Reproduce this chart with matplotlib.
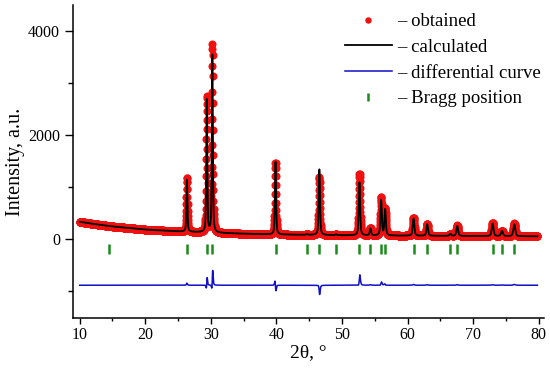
import matplotlib
matplotlib.use("Agg")
import matplotlib.pyplot as plt
from matplotlib.ticker import MultipleLocator, FixedLocator
import numpy as np

plt.rcParams["font.family"] = ["Liberation Serif", "DejaVu Serif"]

# background knots (2theta, intensity)
bg_x = [10, 12, 15, 20, 25, 30, 35, 40, 50, 60, 70, 80]
bg_y = [330, 290, 240, 180, 145, 120, 100, 85, 70, 62, 56, 50]

# peak table: position, calculated height, observed height, obs shift, fwhm
peak_pos = [26.35, 29.38, 30.23, 39.86, 44.67, 46.55, 49.10, 52.66, 54.34, 55.97, 56.58,
            60.91, 63.00, 66.51, 67.58, 72.97, 74.40, 76.28]
calc_h = [1010, 2550, 3450, 1400, 15, 1270, 15, 1020, 130, 680, 500,
          330, 225, 40, 190, 240, 100, 230]
obs_h = [1050, 2620, 3620, 1380, 15, 1120, 15, 1180, 140, 730, 520,
         345, 235, 40, 200, 250, 105, 245]
obs_shift = [0.0, 0.005, 0.006, -0.01, 0.0, -0.008, 0.0, 0.012, 0.0, 0.006, -0.004,
             0.0, 0.0, 0.0, 0.0, 0.0, 0.0, 0.0]
fwhm = [0.18, 0.18, 0.18, 0.2, 0.22, 0.22, 0.24, 0.24, 0.25, 0.25, 0.25,
        0.28, 0.28, 0.3, 0.3, 0.32, 0.33, 0.34]

# Bragg reflections
bragg = [14.48, 26.34, 29.35, 30.21, 39.88, 44.67, 46.55, 49.10, 52.66, 54.34, 55.97,
         56.58, 60.91, 63.00, 66.51, 67.58, 72.97, 74.40, 76.28]

diff_offset = -890
bragg_level = -190


def pseudo_voigt(x, x0, h, w, eta=0.5):
    g = np.exp(-4 * np.log(2) * ((x - x0) / w) ** 2)
    l = 1 / (1 + 4 * ((x - x0) / w) ** 2)
    return h * (eta * l + (1 - eta) * g)


tt = np.arange(10, 79.81, 0.02)
bg = np.interp(tt, bg_x, bg_y)
calc = bg.copy()
obs = bg.copy()
for p, hc, ho, s, w in zip(peak_pos, calc_h, obs_h, obs_shift, fwhm):
    calc += pseudo_voigt(tt, p, hc, w)
    obs += pseudo_voigt(tt, p + s, ho, w)
diff = obs - calc + diff_offset

fig = plt.figure(figsize=(5.5, 3.75), dpi=100)
ax = fig.add_axes([0.133, 0.152, 0.856, 0.835])

ax.plot(tt, obs, 'o', color='#f01010', markersize=5.8, markeredgewidth=0, label='– obtained')
ax.plot(tt, calc, '-', color='black', lw=1.3, label='– calculated')
ax.plot(tt, diff, '-', color='#1010c8', lw=1.1, label='– differential curve')
ax.plot(bragg, [bragg_level] * len(bragg), '|', color='#1a8a1a', markersize=7,
        markeredgewidth=1.8, label='– Bragg position')

ax.set_xlim(9.0, 80.8)
ax.set_ylim(-1520, 4500)

ax.spines['top'].set_visible(False)
ax.spines['right'].set_visible(False)
ax.spines['left'].set_linewidth(1.1)
ax.spines['bottom'].set_linewidth(1.1)

ax.xaxis.set_major_locator(MultipleLocator(10))
ax.xaxis.set_minor_locator(MultipleLocator(5))
ax.yaxis.set_major_locator(FixedLocator([0, 2000, 4000]))
ax.yaxis.set_minor_locator(FixedLocator([-1000, 1000, 3000]))
ax.tick_params(axis='y', which='major', direction='out', length=6, width=1, labelsize=11.5)
ax.tick_params(axis='y', which='minor', direction='out', length=3.5, width=1)
ax.tick_params(axis='x', which='major', direction='out', length=4.5, width=1, labelsize=11.5, pad=2)
ax.tick_params(axis='x', which='minor', direction='out', length=2.5, width=1)

ax.set_xlabel('2θ, °', fontsize=14, labelpad=1)
ax.set_ylabel('Intensity, a.u.', fontsize=14.5, labelpad=2)

leg = ax.legend(loc='upper left', frameon=False, fontsize=13.5, handlelength=2.5,
                handletextpad=0.27, labelspacing=0.46, borderaxespad=0.0,
                bbox_to_anchor=(0.561, 0.998), markerscale=0.8)

fig.savefig('out.png', dpi=100)
